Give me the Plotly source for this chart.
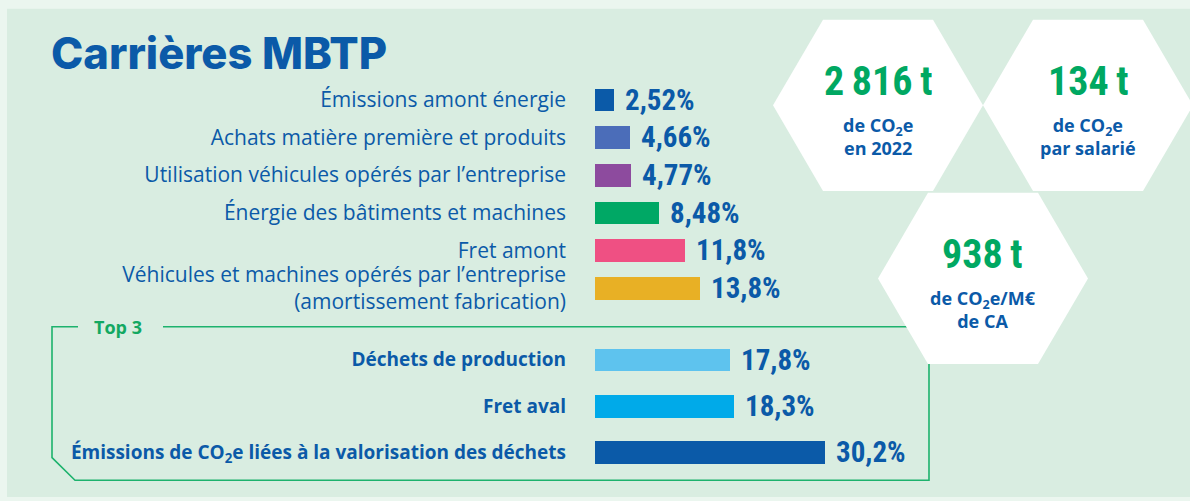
import plotly.graph_objects as go

# ---------------- data ----------------
categories_main = [
    "Émissions amont énergie",
    "Achats matière première et produits",
    "Utilisation véhicules opérés par l’entreprise",
    "Énergie des bâtiments et machines",
    "Fret amont",
    "Véhicules et machines opérés par l’entreprise<br>(amortissement fabrication)",
]
values_main = [2.52, 4.66, 4.77, 8.48, 11.8, 13.8]

categories_top3 = [
    "Déchets de production",
    "Fret aval",
    "Émissions de CO<sub>2</sub>e liées à la valorisation des déchets",
]
values_top3 = [17.8, 18.3, 30.2]

hex_values = ["2\u2009816\u2009t", "134\u2009t", "938\u2009t"]
hex_captions = [
    "de CO<sub>2</sub>e<br>en 2022",
    "de CO<sub>2</sub>e<br>par salarié",
    "de CO<sub>2</sub>e/M€<br>de CA",
]

title_text = "Carrières MBTP"
top3_label = "Top 3"

# ---------------- styles ----------------
colors_main = ["#0b5aa8", "#4b6db9", "#8d4b9e", "#00a865", "#ef5083", "#e8b025"]
colors_top3 = ["#5ec3ee", "#00aae9", "#0b5aa8"]
BLUE = "#0b5aa8"
GREEN = "#00a862"
LINE_GREEN = "#1db26d"
OUTER_BG = "#ebf6ef"
PANEL_BG = "#d9ede1"
LABEL_FAMILY = "Open Sans"
COND_FAMILY = "Roboto Condensed, Liberation Sans Narrow, DejaVu Sans Condensed, sans-serif"

W, H = 1190, 501


def X(px):
    return px / W


def Y(py):
    return 1 - py / H


def fmt(v):
    return f"{v:.3g}".replace(".", ",") + "%"


fig = go.Figure()

fig.add_trace(go.Bar(
    x=values_main, y=categories_main, orientation="h",
    marker=dict(color=colors_main, line=dict(width=0)),
    width=0.6, xaxis="x", yaxis="y", hoverinfo="skip", showlegend=False,
))
fig.add_trace(go.Bar(
    x=values_top3, y=categories_top3, orientation="h",
    marker=dict(color=colors_top3, line=dict(width=0)),
    width=0.49, xaxis="x2", yaxis="y2", hoverinfo="skip", showlegend=False,
))

annotations = []
VAL_FONT = dict(family=COND_FAMILY, size=29, color=BLUE, weight="bold")
for c, v in zip(categories_main, values_main):
    annotations.append(dict(x=v, y=c, xref="x", yref="y", text=fmt(v),
                            showarrow=False, xanchor="left", yanchor="middle",
                            xshift=9, font=VAL_FONT))
for c, v in zip(categories_top3, values_top3):
    annotations.append(dict(x=v, y=c, xref="x2", yref="y2", text=fmt(v),
                            showarrow=False, xanchor="left", yanchor="middle",
                            xshift=9, font=VAL_FONT))

# title
annotations.append(dict(x=X(49), y=Y(54), xref="paper", yref="paper",
                        text=title_text, showarrow=False, xanchor="left",
                        yanchor="middle",
                        font=dict(family="Inter", size=43.5, color=BLUE, weight=800)))
# Top 3 label
annotations.append(dict(x=X(118), y=Y(332), xref="paper", yref="paper",
                        text=top3_label, showarrow=False, xanchor="center",
                        yanchor="middle",
                        font=dict(family=LABEL_FAMILY, size=18, color="#13a862", weight="bold")))

# hexagons
hex_centers = [(878, 107), (1088, 107), (983, 283)]
R, HH, HT = 105, 87, 55
shapes = []
shapes.append(dict(type="rect", xref="paper", yref="paper",
                   x0=X(7), x1=X(1195), y0=Y(9), y1=Y(505),
                   fillcolor=PANEL_BG, line=dict(width=0), layer="below"))
pts = [(78, 332), (52, 332), (52, 465), (75, 488), (929, 488), (929, 332), (163, 332)]
path = "M " + " L ".join(f"{X(a):.5f},{Y(b):.5f}" for a, b in pts)
shapes.append(dict(type="path", xref="paper", yref="paper", path=path,
                   line=dict(color=LINE_GREEN, width=1.6), layer="below"))

for (cx, cy), val, cap in zip(hex_centers, hex_values, hex_captions):
    vs = [(cx - R, cy), (cx - HT, cy - HH), (cx + HT, cy - HH),
          (cx + R, cy), (cx + HT, cy + HH), (cx - HT, cy + HH)]
    p = "M " + " L ".join(f"{X(a):.5f},{Y(b):.5f}" for a, b in vs) + " Z"
    shapes.append(dict(type="path", xref="paper", yref="paper", path=p,
                       fillcolor="white", line=dict(width=0), layer="below"))
    annotations.append(dict(x=X(cx), y=Y(cy - 25), xref="paper", yref="paper",
                            text=val, showarrow=False, xanchor="center",
                            yanchor="middle", height=38,
                            font=dict(family=COND_FAMILY, size=40,
                                      color=GREEN, weight="bold")))
    annotations.append(dict(x=X(cx), y=Y(cy + 32), xref="paper", yref="paper",
                            text=cap, showarrow=False, xanchor="center",
                            yanchor="middle",
                            font=dict(family=LABEL_FAMILY, size=18, color=BLUE,
                                      weight="bold")))

X0 = 595
SCALE = 7.6
xr = [0, (W - X0) / SCALE]
axis_common = dict(showgrid=False, zeroline=False, showticklabels=False,
                   showline=False, ticks="", range=xr, fixedrange=True)

fig.update_layout(
    width=W, height=H, autosize=False,
    margin=dict(l=0, r=0, t=0, b=0, pad=0),
    paper_bgcolor=OUTER_BG, plot_bgcolor="rgba(0,0,0,0)",
    xaxis=dict(domain=[X(X0), 1], anchor="y", **axis_common),
    xaxis2=dict(domain=[X(X0), 1], anchor="y2", **axis_common),
    yaxis=dict(domain=[Y(312), Y(82)], anchor="x",
               range=[len(categories_main) - 0.5, -0.5],
               showgrid=False, zeroline=False, showline=False, ticks="",
               ticklabelstandoff=28, fixedrange=True,
               tickfont=dict(family=LABEL_FAMILY, size=21, color=BLUE)),
    yaxis2=dict(domain=[Y(483), Y(342)], anchor="x2",
                range=[len(categories_top3) - 0.5, -0.5],
                showgrid=False, zeroline=False, showline=False, ticks="",
                ticklabelstandoff=28, fixedrange=True,
                tickvals=categories_top3,
                ticktext=[f"<b>{c}</b>" for c in categories_top3],
                tickfont=dict(family=LABEL_FAMILY, size=19, color=BLUE)),
    shapes=shapes,
    annotations=annotations,
    bargap=0,
)

fig.write_html("out.html", config={"displayModeBar": False},
               post_script="document.body.style.margin='0';")
